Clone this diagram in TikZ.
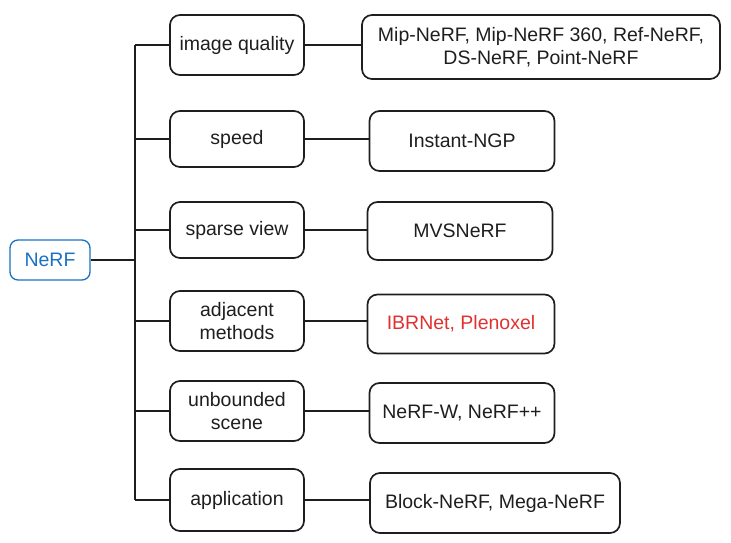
\documentclass[tikz,border=0pt]{standalone}
\usepackage{fontspec}
\setmainfont{Liberation Sans}
\definecolor{biru}{HTML}{1971C2}
\definecolor{merah}{HTML}{E03131}
\definecolor{hitam}{HTML}{1E1E1E}

\begin{document}
\begin{tikzpicture}[x=1pt,y=-1pt,
  kotak/.style={draw=hitam,text=hitam,line width=1.7pt,rounded corners=10pt,
    align=center,inner sep=0pt,font=\fontsize{19.5}{23}\selectfont},
  garis/.style={hitam,line width=1.7pt}]
  \useasboundingbox (0,0) rectangle (731,543);

  \node[kotak,draw=biru,text=biru,line width=1.3pt,rounded corners=8pt,
        minimum width=80,minimum height=40] (nerf) at (50,260) {NeRF};
  \coordinate (trunk) at (135,260);

  \node[kotak,minimum width=134,minimum height=60] (iq)     at (237,45)  {image quality};
  \node[kotak,minimum width=134,minimum height=56] (speed)  at (237,139) {speed};
  \node[kotak,minimum width=134,minimum height=56] (sparse) at (237,230) {sparse view};
  \node[kotak,minimum width=134,minimum height=60] (adj)    at (237,321) {adjacent\\methods};
  \node[kotak,minimum width=134,minimum height=60] (unb)    at (237,411) {unbounded\\scene};
  \node[kotak,minimum width=134,minimum height=62] (app)    at (237,500) {application};

  \node[kotak,minimum width=358,minimum height=64] (mip)   at (541,47)  {Mip-NeRF, Mip-NeRF 360, Ref-NeRF,\\DS-NeRF, Point-NeRF};
  \node[kotak,minimum width=185,minimum height=60] (ngp)   at (462,141) {Instant-NGP};
  \node[kotak,minimum width=185,minimum height=58] (mvs)   at (460,231) {MVSNeRF};
  \node[kotak,text=merah,minimum width=187,minimum height=59] (ibr) at (461,324) {IBRNet, Plenoxel};
  \node[kotak,minimum width=185,minimum height=60] (nw)    at (462,413) {NeRF-W, NeRF++};
  \node[kotak,minimum width=250,minimum height=60] (block) at (495,503) {Block-NeRF, Mega-NeRF};

  \draw[garis] (nerf) -- (trunk);
  \draw[garis] (iq.west -| trunk) -- (app.west -| trunk);
  \foreach \a/\b in {iq/mip,speed/ngp,sparse/mvs,adj/ibr,unb/nw,app/block}{
    \draw[garis] (\a.west -| trunk) -- (\a.west);
    \draw[garis] (\a.east) -- (\a.east -| \b.west);
  }
\end{tikzpicture}
\end{document}
